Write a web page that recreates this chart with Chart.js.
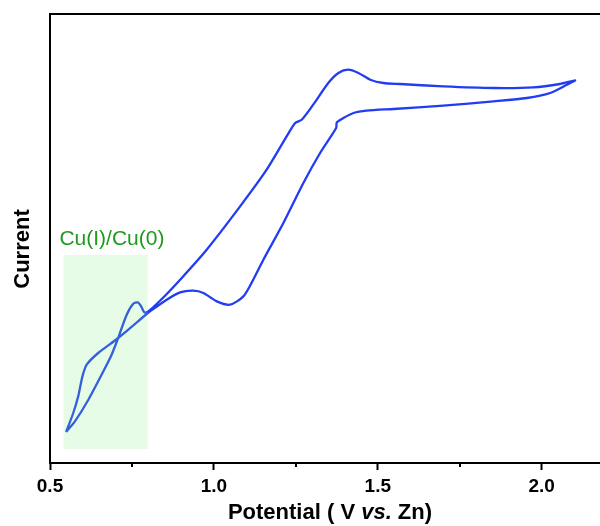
<!DOCTYPE html>
<html>
<head>
<meta charset="utf-8">
<script src="https://cdn.jsdelivr.net/npm/chart.js@4"></script>
<style>
  html, body { margin: 0; padding: 0; background: #fff; }
  #wrap { width: 600px; height: 526px; }
</style>
</head>
<body>
<div id="wrap"><canvas id="cv"></canvas></div>
<script>
/* =========================
   DATA
========================= */

// potential (V vs. Zn), one closed loop starting at the low-potential end
const potential = [0.549, 0.576, 0.617, 0.668, 0.688, 0.708, 0.734, 0.754, 0.768, 0.778, 0.788, 0.800,
    0.848, 0.897, 0.978, 1.080, 1.161, 1.222, 1.248, 1.268, 1.303, 1.349, 1.380, 1.410, 1.441, 1.477,
    1.517, 1.568, 1.700, 1.853, 1.975, 2.056, 2.102,
    2.077, 2.026, 1.955, 1.853, 1.700, 1.548, 1.466, 1.426, 1.395, 1.375, 1.373, 1.324, 1.273, 1.212,
    1.151, 1.120, 1.090, 1.049, 1.009, 0.968, 0.937, 0.897, 0.856, 0.805,
    0.795, 0.708, 0.647, 0.612, 0.599, 0.586, 0.571, 0.549];

// current, arbitrary units
const current = [31, 41.6, 63.3, 95, 108.3, 125, 148.3, 159.3, 160.6, 156.6, 150.6, 151.6,
    166.3, 183.3, 213.3, 256.6, 293.3, 326.6, 340, 343.3, 358.3, 380, 390, 393.3, 390, 383.3,
    380, 379, 376.6, 375, 375.6, 379, 382.6,
    378.3, 370, 365, 361.6, 357.3, 354, 352.3, 350, 345, 340.6, 335, 310, 280, 240,
    203.3, 183.3, 166.6, 158.3, 161.6, 170, 172.3, 170.6, 163.3, 151.6,
    149, 125, 110, 98.3, 86.6, 66.6, 50, 31];

const xTicks = [0.5, 1.0, 1.5, 2.0];
const xMinorTicks = [0.75, 1.25, 1.75];

// shaded Cu(I)/Cu(0) region
const regionLabel = "Cu(I)/Cu(0)";
const regionPotential = [0.541, 0.798];
const regionCurrent = [14, 208];

/* =========================
   PLUGINS
========================= */

const decorations = {
    id: "decorations",
    afterDatasetsDraw(chart) {
        const ctx = chart.ctx;
        const x = chart.scales.x, y = chart.scales.y;
        const x0 = x.getPixelForValue(regionPotential[0]);
        const x1 = x.getPixelForValue(regionPotential[1]);
        const y0 = y.getPixelForValue(regionCurrent[1]);
        const y1 = y.getPixelForValue(regionCurrent[0]);
        ctx.save();
        ctx.fillStyle = "rgba(130, 240, 130, 0.2)";
        ctx.fillRect(x0, y0, x1 - x0, y1 - y0);
        ctx.fillStyle = "#1f9a1f";
        ctx.font = "21px 'Liberation Sans', Arial, sans-serif";
        ctx.textBaseline = "alphabetic";
        ctx.textAlign = "left";
        ctx.fillText(regionLabel, x0 - 4, y0 - 10);
        ctx.restore();
    },
    afterDraw(chart) {
        const ctx = chart.ctx;
        const area = chart.chartArea;
        const x = chart.scales.x;
        ctx.save();
        ctx.strokeStyle = "#000";
        ctx.lineWidth = 2;
        // top frame line
        ctx.beginPath();
        ctx.moveTo(area.left - 1, area.top);
        ctx.lineTo(area.right, area.top);
        ctx.stroke();
        // minor ticks
        xMinorTicks.forEach(v => {
            const px = Math.round(x.getPixelForValue(v));
            ctx.beginPath();
            ctx.moveTo(px, area.bottom);
            ctx.lineTo(px, area.bottom + 4);
            ctx.stroke();
        });

        // x title with italic "vs."
        ctx.fillStyle = "#000";
        ctx.textBaseline = "alphabetic";
        const parts = [
            ["Potential ( V ", "bold 22px 'Liberation Sans', Arial, sans-serif"],
            ["vs.", "italic bold 22px 'Liberation Sans', Arial, sans-serif"],
            [" Zn)", "bold 22px 'Liberation Sans', Arial, sans-serif"]
        ];
        let total = 0;
        parts.forEach(p => { ctx.font = p[1]; total += ctx.measureText(p[0]).width; });
        let cx = 330 - total / 2;
        parts.forEach(p => {
            ctx.font = p[1];
            ctx.fillText(p[0], cx, 519);
            cx += ctx.measureText(p[0]).width;
        });

        // y title
        ctx.translate(29, 249);
        ctx.rotate(-Math.PI / 2);
        ctx.font = "bold 22px 'Liberation Sans', Arial, sans-serif";
        ctx.textAlign = "center";
        ctx.fillText("Current", 0, 0);
        ctx.restore();
    }
};

/* =========================
   CHART
========================= */

const points = potential.map((v, i) => ({ x: v, y: current[i] }));

new Chart(document.getElementById("cv"), {
    type: "scatter",
    data: {
        datasets: [{
            data: points,
            showLine: true,
            borderColor: "#223cf4",
            borderWidth: 2.3,
            pointRadius: 0,
            tension: 0.25
        }]
    },
    options: {
        responsive: true,
        maintainAspectRatio: false,
        animation: false,
        events: [],
        layout: { padding: { top: 14, right: 0, left: 0, bottom: 0 } },
        plugins: { legend: { display: false }, tooltip: { enabled: false } },
        scales: {
            x: {
                type: "linear",
                min: 0.5,
                max: 2.178,
                afterFit: s => { s.height = 63; },
                afterBuildTicks: s => { s.ticks = xTicks.map(v => ({ value: v })); },
                border: { display: true, color: "#000", width: 2 },
                grid: { display: true, drawOnChartArea: false, drawTicks: true, tickLength: 7, tickWidth: 2, tickColor: "#000" },
                ticks: {
                    color: "#000",
                    padding: 5,
                    maxRotation: 0,
                    font: { family: "'Liberation Sans', Arial, sans-serif", size: 19, weight: "bold" },
                    callback: v => v.toFixed(1)
                }
            },
            y: {
                type: "linear",
                min: 0,
                max: 449,
                afterFit: s => { s.width = 50; },
                border: { display: true, color: "#000", width: 2 },
                grid: { display: false },
                ticks: { display: false }
            }
        }
    },
    plugins: [decorations]
});
</script>
</body>
</html>
